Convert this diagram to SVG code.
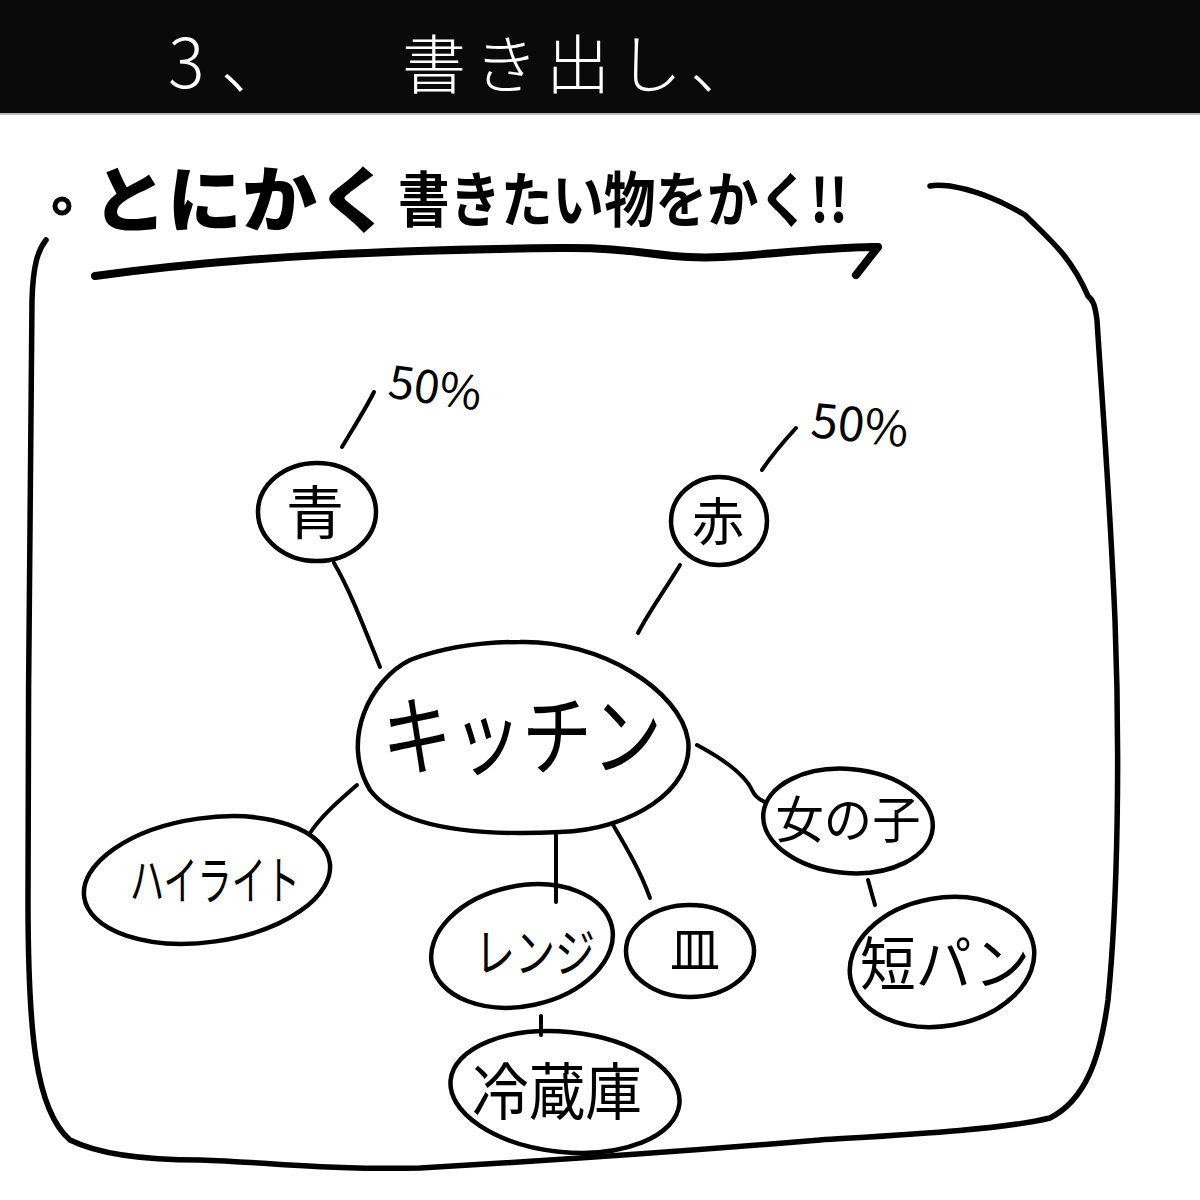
<svg xmlns="http://www.w3.org/2000/svg" width="1200" height="1200" viewBox="0 0 1200 1200">
<style>
.ln{fill:none;stroke:#000;stroke-width:4;stroke-linecap:round;stroke-linejoin:round}
.nd{fill:none;stroke:#000;stroke-width:4.5}
.t{font-family:"Noto Sans CJK JP","Noto Sans",sans-serif;fill:#000;text-anchor:middle}
.h{font-family:"Noto Sans CJK JP","Noto Sans",sans-serif;fill:#fff}
</style>
<rect x="0" y="0" width="1200" height="1200" fill="#fff"/>
<rect x="0" y="0" width="1200" height="113" fill="#0a0a0a"/>
<line x1="0" y1="114" x2="1200" y2="114" stroke="#bbb" stroke-width="2"/>
<text class="h" x="168" y="88" font-size="68" font-weight="300" letter-spacing="16">3、</text>
<text class="h" x="402" y="88" font-size="64" font-weight="300" letter-spacing="8">書き出し、</text>

<!-- title -->
<circle cx="62" cy="206" r="7" fill="none" stroke="#000" stroke-width="5"/>
<text x="92" y="226" font-family="'Noto Sans CJK JP',sans-serif" font-size="72" font-weight="900" textLength="300" lengthAdjust="spacingAndGlyphs">とにかく</text>
<text x="398" y="222" font-family="'Noto Sans CJK JP',sans-serif" font-size="60" font-weight="700" textLength="450" lengthAdjust="spacingAndGlyphs">書きたい物をかく!!</text>
<path d="M95,276 C250,255 400,250 560,248 C650,247 660,262 740,256 C800,251 850,246 878,247 L856,275" fill="none" stroke="#000" stroke-width="8" stroke-linecap="round" stroke-linejoin="round"/>

<!-- frame -->
<path d="M46,240 C38,250 33,265 32,300 C30,450 28,700 28,900 C28,1030 35,1110 70,1140 C100,1155 150,1160 200,1160 C280,1163 330,1170 420,1168 C560,1160 700,1150 820,1140 C900,1135 1000,1130 1050,1118 C1085,1100 1100,1060 1108,1000 C1118,900 1120,750 1115,620 C1110,500 1102,400 1097,320 C1095,305 1093,300 1088,296 C1070,255 1050,240 1025,215 C1000,200 975,190 950,186 C940,185 935,185 930,186" fill="none" stroke="#000" stroke-width="5.5" stroke-linecap="round"/>

<!-- connectors -->
<g id="connectors">
<path class="ln" d="M334,563 C350,590 365,630 380,667"/>
<path class="ln" d="M680,565 C665,590 650,610 638,633"/>
<path class="ln" d="M357,785 C340,800 322,815 310,833"/>
<path class="ln" d="M697,745 C725,760 745,775 752,790 C755,797 760,800 765,802"/>
<path class="ln" d="M556,832 L556,902"/>
<path class="ln" d="M612,823 C625,845 640,870 650,898"/>
<path class="ln" d="M541,1016 L541,1035"/>
<path class="ln" d="M868,880 L875,905"/>
<path class="ln" d="M342,447 C352,430 365,410 374,392"/>
<path class="ln" d="M762,470 C772,455 785,440 796,428"/>
</g>

<g id="n-kitchen">
<path class="nd" d="M520,642 C600,640 680,690 688,740 C695,790 630,830 560,832 C480,836 400,830 370,790 C340,740 370,680 410,660 C450,645 490,642 520,642 Z"/>
<text class="t" x="522" y="768" font-size="88" textLength="280" lengthAdjust="spacingAndGlyphs">キッチン</text>
</g>
<g id="n-ao">
<ellipse class="nd" cx="317" cy="512" rx="59" ry="49"/>
<text class="t" x="315" y="534" font-size="58">青</text>
</g>
<g id="n-aka">
<ellipse class="nd" cx="719" cy="521" rx="48" ry="44"/>
<text class="t" x="718" y="541" font-size="52">赤</text>
</g>
<g id="p1">
<text class="t" x="435" y="404" font-size="46" transform="rotate(8 435 390)">50%</text>
</g>
<g id="p2">
<text class="t" x="860" y="442" font-size="48" transform="rotate(6 860 425)">50%</text>
</g>
<g id="n-highlight">
<ellipse class="nd" cx="207" cy="880" rx="124" ry="62" transform="rotate(-8 207 880)"/>
<text class="t" x="215" y="900" font-size="52" textLength="170" lengthAdjust="spacingAndGlyphs">ハイライト</text>
</g>
<g id="n-onnanoko">
<ellipse class="nd" cx="848" cy="821" rx="85" ry="52" transform="rotate(5 848 821)"/>
<text class="t" x="848" y="838" font-size="50" textLength="145" lengthAdjust="spacingAndGlyphs">女の子</text>
</g>
<g id="n-tanpan">
<ellipse class="nd" cx="942" cy="962" rx="93" ry="64" transform="rotate(-10 942 962)"/>
<text class="t" x="945" y="985" font-size="58" textLength="170" lengthAdjust="spacingAndGlyphs">短パン</text>
</g>
<g id="n-renji">
<ellipse class="nd" cx="522" cy="946" rx="92" ry="60" transform="rotate(-12 522 946)"/>
<text class="t" x="535" y="972" font-size="52" textLength="120" lengthAdjust="spacingAndGlyphs">レンジ</text>
</g>
<g id="n-sara">
<ellipse class="nd" cx="690" cy="951" rx="64" ry="46"/>
<text class="t" x="695" y="968" font-size="50">皿</text>
</g>
<g id="n-reizouko">
<ellipse class="nd" cx="565" cy="1092" rx="115" ry="60" transform="rotate(6 565 1092)"/>
<text class="t" x="557" y="1115" font-size="62" textLength="170" lengthAdjust="spacingAndGlyphs">冷蔵庫</text>
</g>
</svg>
